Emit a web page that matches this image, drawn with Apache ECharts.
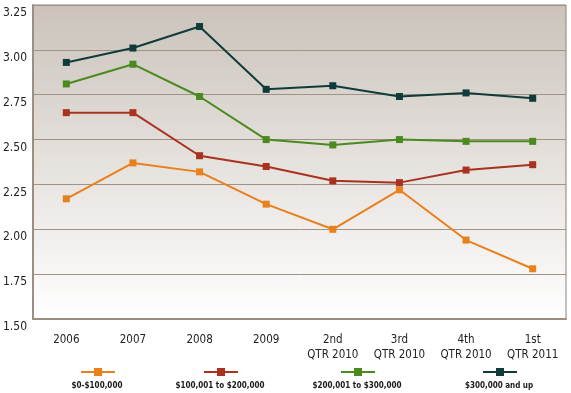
<!DOCTYPE html>
<html><head><meta charset="utf-8">
<script src="https://cdn.jsdelivr.net/npm/echarts@6/dist/echarts.min.js"></script>
<style>html,body{margin:0;padding:0;background:#fff}#c{width:571px;height:393px}</style>
</head><body><div id="c"></div>
<script>
const categories = ['2006','2007','2008','2009','2nd\nQTR 2010','3rd\nQTR 2010','4th\nQTR 2010','1st\nQTR 2011'];
const seriesNames = ['$0-$100,000','$100,001 to $200,000','$200,001 to $300,000','$300,000 and up'];
const s0 = [2.17, 2.37, 2.32, 2.14, 2.00, 2.22, 1.94, 1.78];
const s1 = [2.65, 2.65, 2.41, 2.35, 2.27, 2.26, 2.33, 2.36];
const s2 = [2.81, 2.92, 2.74, 2.50, 2.47, 2.50, 2.49, 2.49];
const s3 = [2.93, 3.01, 3.13, 2.78, 2.80, 2.74, 2.76, 2.73];
const yTicks = [1.50, 1.75, 2.00, 2.25, 2.50, 2.75, 3.00, 3.25];

const colors = ['#e8801c', '#a8321f', '#4b8a1f', '#0f3b3a'];
const values = [s0, s1, s2, s3];
const font = '"DejaVu Sans Condensed","DejaVu Sans",Arial,sans-serif';
const legendFontSize = 8;

const iconCenters = [97, 220, 357, 499];
const ctx = document.createElement('canvas').getContext('2d');
ctx.font = 'bold ' + legendFontSize + 'px ' + font;

const legends = [];
seriesNames.forEach((n, i) => {
  const w = ctx.measureText(n).width;
  legends.push({
    data: [n], left: iconCenters[i] - 17, top: 367, itemWidth: 34, itemHeight: 10,
    formatter: () => '', itemGap: 0, padding: 0, selectedMode: false
  });
  legends.push({
    data: [{name: n, icon: 'none'}], left: iconCenters[i] - w / 2 - 5, top: 381,
    itemWidth: 0, itemHeight: 10, padding: 0, selectedMode: false,
    textStyle: {fontFamily: font, fontSize: legendFontSize, fontWeight: 'bold', color: '#1a1a1a'}
  });
});

const chart = echarts.init(document.getElementById('c'), null, {renderer: 'canvas'});
chart.setOption({
  animation: false,
  color: colors,
  legend: legends,
  grid: {
    left: 33, right: 5, top: 5, bottom: 74, show: true,
    borderColor: '#8c827a', borderWidth: 1,
    backgroundColor: new echarts.graphic.LinearGradient(0, 0, 0, 1, [
      {offset: 0, color: '#cbc3bb'}, {offset: 1, color: '#ffffff'}
    ])
  },
  xAxis: {
    type: 'category', data: categories, boundaryGap: true,
    axisLine: {lineStyle: {color: '#9b8f84', width: 2}},
    axisTick: {inside: true, length: 8, lineStyle: {color: '#666'}},
    axisLabel: {interval: 0, fontFamily: font, fontSize: 11.5, color: '#222', margin: 14, lineHeight: 15}
  },
  yAxis: {
    type: 'value', min: yTicks[0], max: yTicks[yTicks.length - 1], interval: 0.25,
    axisLine: {show: true, lineStyle: {color: '#9b8f84', width: 2}},
    axisTick: {show: false},
    splitLine: {lineStyle: {color: '#9f9286', width: 1}},
    axisLabel: {fontFamily: font, fontSize: 12, color: '#222', align: 'left', margin: 30,
      verticalAlign: 'top', lineHeight: 10, padding: [3, 0, 0, 0],
      formatter: v => v.toFixed(2)}
  },
  series: values.map((d, i) => ({
    name: seriesNames[i], type: 'line', data: d,
    symbol: 'rect', symbolSize: 7, showSymbol: true,
    lineStyle: {width: 2, color: colors[i]},
    itemStyle: {color: colors[i]}
  }))
});
</script></body></html>
